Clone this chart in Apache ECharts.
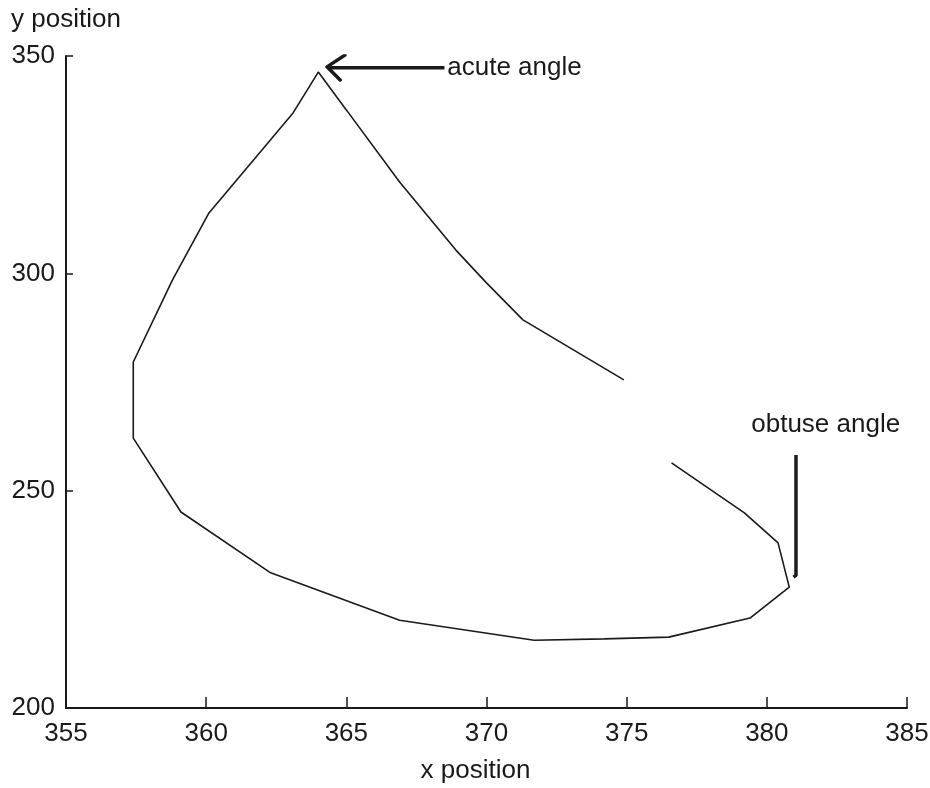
<!DOCTYPE html>
<html>
<head>
<meta charset="utf-8">
<script src="https://cdn.jsdelivr.net/npm/echarts@6/dist/echarts.min.js"></script>
<style>
  html, body { margin: 0; padding: 0; background: #fff; }
  #chart { width: 930px; height: 788px; }
</style>
</head>
<body>
<div id="chart"></div>
<script>
// Traced path (x, y) in plot units, from the upper open end around to the lower open end
const pathX = [374.9, 371.3, 370.0, 368.9, 366.9, 365.0, 364.0, 363.1, 360.1, 358.8, 357.4, 357.4,
               359.1, 362.3, 366.9, 371.7, 374.2, 376.5, 379.4, 380.8, 380.4, 379.2, 376.6];
const pathY = [275.5, 289.3, 297.8, 305.4, 321.0, 337.6, 346.3, 336.9, 313.9, 298.5, 279.6, 262.1,
               245.1, 231.1, 220.2, 215.6, 215.9, 216.3, 220.7, 227.8, 238.0, 244.9, 256.4];

// Annotation geometry (plot units)
const acuteShaftX = [364.35, 368.5];
const acuteShaftY = [347.3, 347.3];
const acuteHeadX = [364.95, 364.31, 364.78];
const acuteHeadY = [350.2, 347.5, 344.5];
const obtuseLineX = [381.04, 381.04, 380.95];
const obtuseLineY = [258.2, 230.5, 230.1];

const labelTexts = ['acute angle', 'obtuse angle'];
const labelX = [368.6, 382.1];
const labelY = [347.3, 265.1];

const xTicks = { min: 355, max: 385, step: 5 };
const yTicks = { min: 200, max: 350, step: 50 };

const zip = (xs, ys) => xs.map((x, i) => [x, ys[i]]);

const ink = '#1a1a1a';
const fontFamily = 'Liberation Sans, Arial, sans-serif';
const fontSize = 26;

const chart = echarts.init(document.getElementById('chart'), null, { renderer: 'canvas' });

chart.setOption({
  animation: false,
  backgroundColor: '#ffffff',
  grid: { left: 66, right: 23, top: 56, bottom: 80, containLabel: false, outerBoundsMode: 'none' },
  xAxis: {
    type: 'value',
    min: xTicks.min, max: xTicks.max, interval: xTicks.step,
    name: 'x position',
    nameLocation: 'middle',
    nameGap: 50,
    nameTextStyle: { fontSize, color: ink, fontFamily, padding: [0, 22, 0, 0] },
    axisLine: { show: true, onZero: false, lineStyle: { color: ink, width: 2 } },
    axisTick: { show: true, inside: true, length: 11, lineStyle: { color: ink, width: 1.5 } },
    axisLabel: { fontSize, color: ink, fontFamily, margin: 13 },
    splitLine: { show: false }
  },
  yAxis: {
    type: 'value',
    min: yTicks.min, max: yTicks.max, interval: yTicks.step,
    name: 'y position',
    nameLocation: 'end',
    nameGap: 23,
    nameTextStyle: { fontSize, color: ink, fontFamily, align: 'center' },
    axisLine: { show: true, onZero: false, lineStyle: { color: ink, width: 2 } },
    axisTick: { show: true, inside: true, length: 7, lineStyle: { color: ink, width: 1.5 } },
    axisLabel: { fontSize, color: ink, fontFamily, margin: 11 },
    splitLine: { show: false }
  },
  series: [
    {
      name: 'path',
      type: 'line',
      data: zip(pathX, pathY),
      showSymbol: false,
      lineStyle: { color: ink, width: 1.6 },
      z: 3
    },
    {
      name: 'acute arrow shaft',
      type: 'line',
      data: zip(acuteShaftX, acuteShaftY),
      showSymbol: false,
      lineStyle: { color: ink, width: 3.5 },
      z: 4
    },
    {
      name: 'acute arrow head',
      type: 'line',
      data: zip(acuteHeadX, acuteHeadY),
      showSymbol: false,
      lineStyle: { color: ink, width: 3.5, cap: 'round', join: 'round' },
      z: 4
    },
    {
      name: 'obtuse marker',
      type: 'line',
      data: zip(obtuseLineX, obtuseLineY),
      showSymbol: false,
      lineStyle: { color: ink, width: 3.5 },
      z: 4
    },
    {
      name: 'notes',
      type: 'scatter',
      symbolSize: 0,
      itemStyle: { opacity: 1 },
      data: [
        { value: [labelX[0], labelY[0]], label: { position: 'right', distance: 0 } },
        { value: [labelX[1], labelY[1]], label: { position: 'inside' } }
      ].map((d, i) => ({ ...d, name: labelTexts[i] })),
      label: {
        show: true,
        formatter: p => p.name,
        fontSize,
        color: ink,
        fontFamily,
        textBorderWidth: 0
      },
      z: 5
    }
  ]
});
</script>
</body>
</html>
